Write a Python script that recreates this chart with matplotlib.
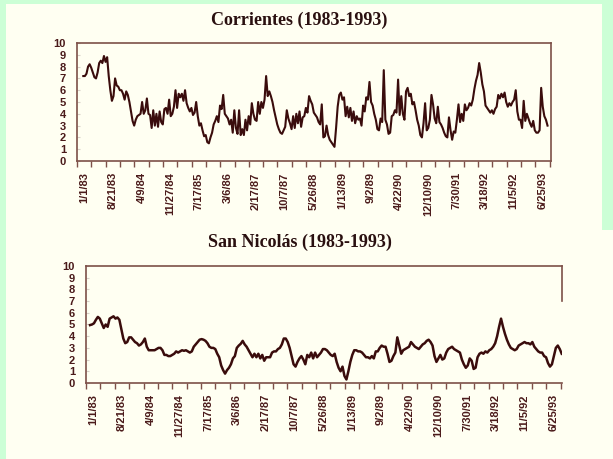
import numpy as np
import matplotlib
matplotlib.use("Agg")
import matplotlib.pyplot as plt
from matplotlib.patches import Rectangle

# fechas de las etiquetas del eje x (eje de categorias, espaciado uniforme)
date_labels = ["1/1/83", "8/21/83", "4/9/84", "11/27/84", "7/17/85", "3/6/86",
               "2/17/87", "10/7/87", "5/26/88", "1/13/89", "9/2/89", "4/22/90",
               "12/10/90", "7/30/91", "3/18/92", "11/5/92", "6/25/93"]

# Corrientes: valores, muestreo regular
corrientes = [
    7.2, 7.2, 7.4, 8.0, 8.2, 7.9, 7.5, 7.1, 7.0, 7.5, 8.3, 8.5, 8.3, 8.9, 8.4, 8.8,
    7.2, 6.0, 5.1, 5.5, 7.0, 6.4, 6.3, 6.0, 6.0, 5.7, 5.2, 5.9, 5.6, 5.0, 4.2, 3.4,
    3.0, 3.5, 3.8, 3.9, 4.0, 5.0, 4.0, 4.3, 5.3, 4.0, 3.9, 2.8, 4.3, 3.0, 4.0, 2.9,
    4.2, 3.3, 3.1, 4.4, 4.5, 4.0, 5.2, 3.8, 4.0, 4.6, 6.0, 4.5, 5.7, 5.4, 5.7, 5.1,
    6.0, 4.9, 4.5, 4.2, 4.5, 3.9, 4.1, 5.0, 3.8, 3.0, 3.2, 2.6, 2.1, 2.2, 1.6, 1.5,
    2.0, 2.4, 3.1, 3.4, 3.8, 3.3, 4.7, 4.4, 5.6, 4.0, 3.8, 3.6, 3.1, 3.5, 2.4, 4.3,
    2.8, 2.3, 4.3, 2.2, 2.7, 2.2, 3.5, 2.6, 3.8, 3.1, 4.9, 4.0, 3.5, 3.4, 5.0, 4.0,
    5.0, 4.5, 5.2, 7.2, 5.5, 5.9, 5.5, 5.0, 4.3, 3.7, 3.1, 2.7, 2.4, 2.3, 2.6, 2.9,
    4.3, 3.6, 3.2, 2.7, 3.8, 2.8, 4.0, 3.2, 4.2, 2.9, 3.7, 3.8, 4.5, 4.1, 5.5, 5.1,
    4.8, 4.1, 3.9, 3.7, 3.3, 3.1, 4.8, 2.0, 2.1, 3.0, 2.2, 1.8, 1.6, 1.4, 1.2, 2.8,
    4.6, 5.6, 5.8, 5.2, 5.4, 3.8, 4.6, 3.7, 4.5, 3.4, 4.2, 3.2, 3.8, 3.5, 3.6, 3.0,
    4.7, 4.2, 5.4, 5.2, 6.7, 5.0, 4.7, 4.0, 3.5, 2.7, 2.6, 3.6, 3.3, 7.7, 3.5, 3.1,
    2.3, 2.4, 3.8, 3.9, 4.3, 4.1, 6.9, 3.9, 5.5, 4.0, 3.5, 5.9, 6.2, 5.5, 5.7, 4.8,
    5.0, 4.3, 3.5, 3.0, 2.2, 2.0, 3.2, 4.9, 2.6, 2.8, 3.5, 5.6, 4.8, 3.6, 3.2, 4.6,
    3.3, 3.1, 2.8, 2.4, 2.1, 2.0, 3.7, 2.6, 1.8, 2.5, 2.4, 3.5, 4.8, 3.3, 4.0, 3.4,
    4.8, 4.3, 4.5, 4.9, 4.7, 5.2, 6.1, 6.8, 7.3, 8.3, 7.5, 6.5, 5.9, 4.7, 4.5, 4.3,
    4.1, 4.3, 4.0, 4.4, 4.6, 5.6, 5.3, 5.7, 5.4, 5.8, 5.0, 4.6, 4.9, 4.7, 5.0, 5.2,
    6.0, 4.2, 3.5, 3.5, 2.8, 5.1, 3.4, 4.0, 3.6, 3.2, 2.9, 3.4, 2.6, 2.4, 2.4, 2.6,
    6.2, 4.6, 3.8, 3.5, 3.0,
]

# San Nicolas
san_nicolas = [
    4.95, 5.0, 5.1, 5.4, 5.65, 5.5, 5.1, 4.7, 5.0, 4.8, 5.5, 5.6, 5.7, 5.5, 5.6, 5.4,
    4.6, 3.8, 3.4, 3.5, 3.9, 3.9, 3.7, 3.5, 3.4, 3.2, 3.3, 3.5, 3.8, 3.1, 2.8, 2.8,
    2.8, 2.8, 2.9, 3.0, 3.0, 2.8, 2.4, 2.4, 2.3, 2.3, 2.4, 2.5, 2.7, 2.6, 2.7, 2.8,
    2.75, 2.8, 2.7, 2.6, 2.7, 3.1, 3.3, 3.5, 3.7, 3.75, 3.7, 3.6, 3.4, 3.1, 3.0, 3.0,
    2.9, 2.5, 2.2, 1.5, 1.1, 0.8, 1.1, 1.3, 1.6, 2.1, 2.3, 3.0, 3.2, 3.35, 3.6, 3.3,
    3.1, 2.8, 2.5, 2.2, 2.5, 2.2, 2.5, 2.1, 2.4, 1.9, 2.2, 2.2, 2.2, 2.6, 2.7, 2.7,
    2.9, 3.0, 3.3, 3.8, 3.8, 3.5, 3.0, 2.3, 1.6, 1.4, 1.8, 2.1, 2.3, 2.0, 1.6, 2.4,
    2.2, 2.6, 2.1, 2.6, 2.2, 2.4, 2.6, 2.9, 2.9, 2.8, 2.6, 2.4, 2.3, 2.5, 1.8, 1.3,
    1.0, 1.4, 0.6, 0.3, 1.0, 1.8, 2.4, 2.8, 2.8, 2.7, 2.7, 2.6, 2.4, 2.2, 2.2, 2.1,
    2.3, 2.1, 2.7, 2.7, 3.0, 3.2, 3.1, 3.1, 2.5, 1.8, 1.9, 2.3, 2.6, 3.9, 3.2, 2.5,
    2.8, 2.9, 3.0, 3.1, 3.5, 3.3, 3.1, 3.0, 2.9, 3.1, 3.3, 3.4, 3.6, 3.7, 3.5, 3.2,
    2.3, 1.8, 2.1, 2.4, 2.0, 2.1, 2.6, 2.9, 3.0, 3.1, 2.9, 2.8, 2.7, 2.6, 2.0, 1.6,
    1.3, 1.5, 2.1, 1.9, 1.2, 1.3, 2.2, 2.5, 2.6, 2.5, 2.7, 2.6, 2.8, 2.9, 3.1, 3.4,
    4.0, 4.8, 5.5, 4.8, 4.2, 3.7, 3.3, 3.0, 2.9, 2.8, 2.9, 3.2, 3.3, 3.4, 3.5, 3.4,
    3.4, 3.3, 3.5, 3.1, 2.9, 2.7, 2.6, 2.6, 2.3, 2.2, 1.7, 1.4, 1.6, 2.3, 3.0, 3.2,
    2.9, 2.5,
]

# posicion (en unidades de etiqueta) del primer y ultimo dato
x_corr = np.linspace(-0.03, 16.18, len(corrientes))
x_sn = np.linspace(-0.11, 16.29, len(san_nicolas))

green = "#ccffd6"
cream = "#fffff2"
line_c = "#3a0c0c"
frame_c = "#7d5048"
text_c = "#4a1a1a"

fig = plt.figure(figsize=(6.13, 4.59), dpi=100, facecolor=green)
fig.patches.append(Rectangle((6 / 613, 0), 1, 1 - 4 / 459, transform=fig.transFigure,
                             facecolor=cream, edgecolor="none", zorder=-10))
# franja verde a la derecha en la mitad superior
fig.patches.append(Rectangle((602 / 613, 1 - 230 / 459), 1, 1, transform=fig.transFigure,
                             facecolor=green, edgecolor="none", zorder=-9))

ax1 = fig.add_axes([0.1256, 0.6492, 0.7732, 0.2571])
ax2 = fig.add_axes([0.1403, 0.1656, 0.7765, 0.2549])

ax1.plot(x_corr, corrientes, color=line_c, lw=1.5)
ax2.plot(x_sn, san_nicolas, color=line_c, lw=1.8)

tick_font = dict(family="Liberation Sans", weight="bold", size=8)
title_font = dict(family="Liberation Serif", weight="bold", size=13)

for ax, xl in ((ax1, (-0.25, 16.3)), (ax2, (-0.22, 16.3))):
    ax.set_facecolor("none")
    ax.set_xlim(*xl)
    ax.set_ylim(0, 10)
    ax.set_yticks(range(0, 11))
    ax.set_yticklabels([str(v) for v in range(11)], fontdict=tick_font, color=text_c)
    ax.tick_params(axis="y", direction="in", length=2, color="#d8d0c8", pad=8)
    # marcas entre categorias, etiquetas centradas entre marcas
    ax.set_xticks(np.arange(-0.25, 16.3, 0.5))
    ax.set_xticklabels([])
    ax.set_xticks(np.arange(len(date_labels)), minor=True)
    ax.set_xticklabels(date_labels, minor=True, rotation=90, fontdict=tick_font, color=text_c)
    ax.tick_params(axis="x", which="major", direction="out", length=4, color=frame_c, width=1)
    ax.tick_params(axis="x", which="minor", length=0, pad=8)
    for s in ax.spines.values():
        s.set_color(frame_c)
        s.set_linewidth(1.2)

ax2.spines["right"].set_bounds(7, 10)

fig.text(0.488, 1 - 20 / 459, "Corrientes (1983-1993)", ha="center", va="center",
         color="#2a1010", **title_font)
fig.text(0.490, 1 - 242 / 459, "San Nicolás (1983-1993)", ha="center", va="center",
         color="#2a1010", **title_font)

fig.savefig("out.png", dpi=100, facecolor=fig.get_facecolor())
